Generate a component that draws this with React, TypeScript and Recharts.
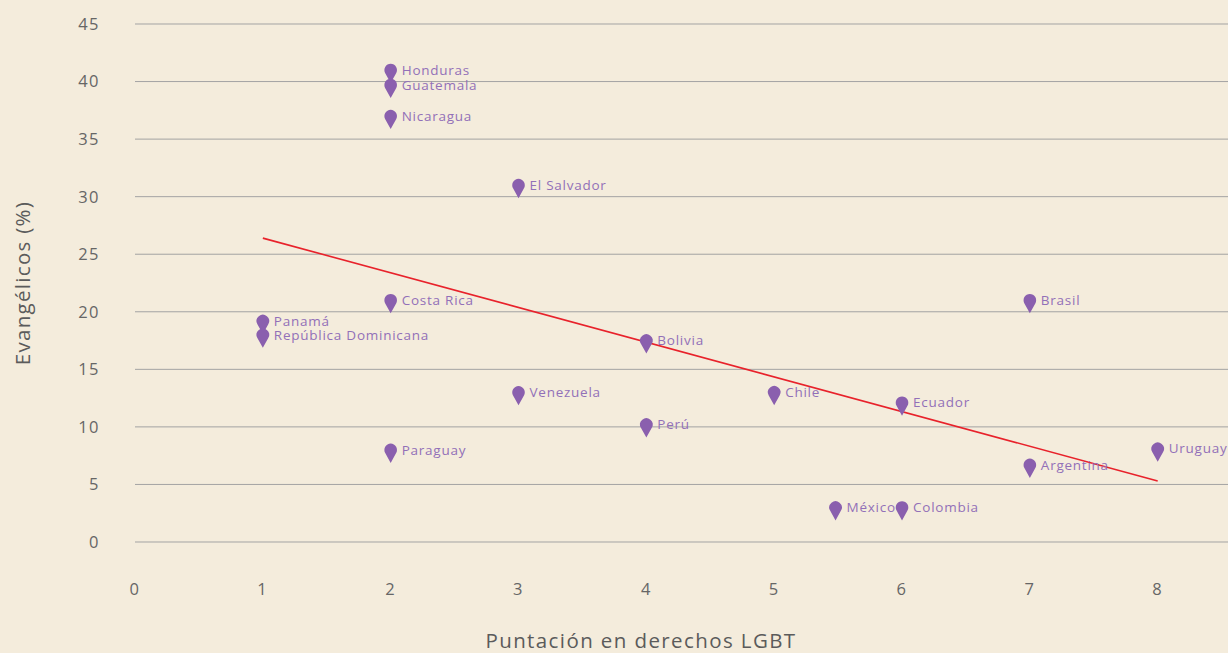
import React from 'react';
import { ScatterChart, Scatter, XAxis, YAxis, CartesianGrid, ReferenceLine } from 'recharts';

const countries = ['Honduras', 'Guatemala', 'Nicaragua', 'El Salvador', 'Costa Rica', 'Panamá', 'República Dominicana', 'Bolivia', 'Venezuela', 'Perú', 'Paraguay', 'Chile', 'Ecuador', 'Brasil', 'Uruguay', 'Argentina', 'México', 'Colombia'];
const lgbtScores = [2, 2, 2, 3, 2, 1, 1, 4, 3, 4, 2, 5, 6, 7, 8, 7, 5.48, 6];
const evangelicals = [41, 39.7, 37, 31, 21, 19.2, 18, 17.5, 13, 10.2, 8, 13, 12.1, 21, 8.1, 6.7, 3, 3];
const xTicks = [0, 1, 2, 3, 4, 5, 6, 7, 8];
const yTicks = [0, 5, 10, 15, 20, 25, 30, 35, 40, 45];
const trendStart = { x: 1, y: 26.4 };
const trendEnd = { x: 8, y: 5.3 };

const data = countries.map((name, i) => ({ name, x: lgbtScores[i], y: evangelicals[i] }));

const FONT = '"Open Sans", sans-serif';
const PIN = '#8a5fae';
const LABEL = '#9270b8';

const Pin = (props: any) => {
  const { cx, cy, payload } = props;
  if (cx == null || cy == null) return null;
  const r = 6.3;
  const tx = r * Math.sin(Math.PI / 3);
  const ty = r * Math.cos(Math.PI / 3);
  const d = `M ${cx} ${cy + 13} L ${cx - tx} ${cy + ty} A ${r} ${r} 0 1 1 ${cx + tx} ${cy + ty} Z`;
  return (
    <g>
      <path d={d} fill={PIN} />
      <text x={cx + 11} y={cy} dy="0.35em" fill={LABEL} fontSize={13.5} fontFamily={FONT} letterSpacing={0.75}>
        {payload.name}
      </text>
    </g>
  );
};

const YLabel = (props: any) => {
  const vb = props.viewBox || {};
  const x = 22;
  const y = vb.y + vb.height / 2;
  return (
    <text x={x} y={y} transform={`rotate(-90, ${x}, ${y})`} textAnchor="middle" dominantBaseline="central" fill="#5b5b5b" fontSize={20.5} fontFamily={FONT} letterSpacing={1.3}>
      Evangélicos (%)
    </text>
  );
};

const XLabel = (props: any) => {
  const vb = props.viewBox || {};
  return (
    <text x={641} y={vb.y + vb.height - 5} textAnchor="middle" fill="#5b5b5b" fontSize={20.5} fontFamily={FONT} letterSpacing={1.4}>
      Puntación en derechos LGBT
    </text>
  );
};

export default function App() {
  return (
    <div style={{ position: 'absolute', left: 0, top: 0, width: 1228, height: 653, background: '#f4ecdc', overflow: 'hidden' }}>
      <ScatterChart width={1228} height={653} margin={{ top: 24, right: 0, bottom: 0, left: 0 }}>
        <CartesianGrid vertical={false} stroke="#a3a3a3" strokeWidth={1} />
        <XAxis
          type="number"
          dataKey="x"
          domain={[0, 8.55]}
          ticks={xTicks}
          allowDataOverflow
          height={111}
          axisLine={false}
          tickLine={false}
          tickSize={0}
          tickMargin={41}
          tick={{ fill: '#666', fontSize: 16.5, fontFamily: FONT, letterSpacing: 1.5 }}
          label={<XLabel />}
        />
        <YAxis
          type="number"
          dataKey="y"
          domain={[0, 45]}
          ticks={yTicks}
          width={135}
          axisLine={false}
          tickLine={false}
          tickSize={0}
          tickMargin={35}
          tick={{ fill: '#666', fontSize: 16.5, fontFamily: FONT, letterSpacing: 1.5 }}
          label={<YLabel />}
        />
        <Scatter data={data} shape={<Pin />} isAnimationActive={false} />
        <ReferenceLine segment={[trendStart, trendEnd]} stroke="#e8222b" strokeWidth={1.6} ifOverflow="extendDomain" />
      </ScatterChart>
    </div>
  );
}
